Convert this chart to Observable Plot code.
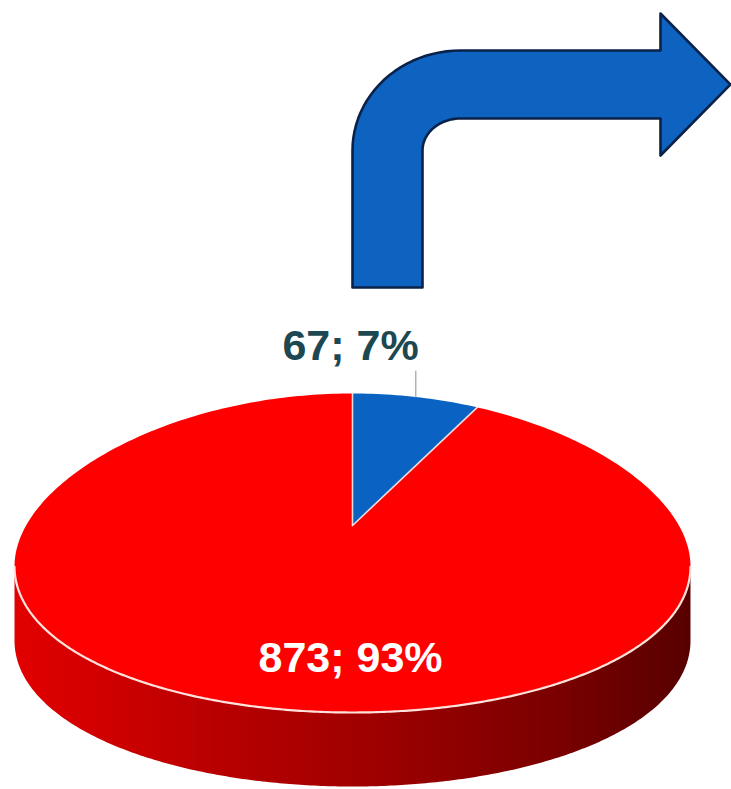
<!DOCTYPE html>
<html>
<head>
<meta charset="utf-8">
<script src="https://cdn.jsdelivr.net/npm/d3@7"></script>
<script src="https://cdn.jsdelivr.net/npm/@observablehq/plot@0.6"></script>
<style>
  html, body { margin: 0; padding: 0; background: #ffffff; }
  #chart svg { display: block; }
</style>
</head>
<body>
<div id="chart"></div>
<script>
// ---- data ----
const sliceKeys = ["first", "second"];
const values = [67, 873];

// ---- layout (pixels) ----
const W = 731, H = 789;
const cx = 352, cy = 525;          // pie centre (apex of slices)
const persp = 5.8;                 // perspective distance (unit radii)
const A = 897.6, B = 1931;         // vertical / horizontal projection factors
const sag = 14;                    // extra drop of the side extremes
const thick = 74;                  // pie thickness
const colors = {first: "#0a63c2", second: "#ff0000"};

const total = d3.sum(values);
const pct = values.map(v => Math.round(100 * v / total));

function proj(theta, f = 1) {
  const c = Math.sin(theta) * f, s = -Math.cos(theta) * f;
  return [cx + B * c / (persp - s), cy + A * s / (persp - s) + sag * c * c];
}
const TAU = 2 * Math.PI;

// slice angles (clockwise from 12 o'clock)
let acc = 0;
const slices = values.map((v, i) => {
  const a0 = acc / total * TAU; acc += v; const a1 = acc / total * TAU;
  return {key: sliceKeys[i], value: v, a0, a1, mid: (a0 + a1) / 2};
});

// top polygons
const topPts = [];
for (const s of slices) {
  topPts.push({key: s.key, x: cx, y: cy});
  const n = Math.max(8, Math.ceil((s.a1 - s.a0) / TAU * 360));
  for (let k = 0; k <= n; k++) {
    const [x, y] = proj(s.a0 + (s.a1 - s.a0) * k / n);
    topPts.push({key: s.key, x, y});
  }
  topPts.push({key: s.key, x: cx, y: cy});
}

// side wall (visible front half): from rightmost to leftmost rim point
const rim = d3.range(0, 721).map(k => proj(k / 720 * TAU));
const iR = d3.maxIndex(rim, p => p[0]), iL = d3.minIndex(rim, p => p[0]);
const rimPts = rim.slice(iR, iL + 1).map(([x, y]) => ({x, y}));
const sidePts = [...rimPts, ...rimPts.slice().reverse().map(p => ({x: p.x, y: p.y + thick})), rimPts[0]];

// slice edges
const edgePts = [];
slices.forEach((s, i) => {
  const [x, y] = proj(s.a0);
  edgePts.push({e: i, x: cx, y: cy}, {e: i, x, y});
});

// leader for small slice
const [lx, ly] = proj(slices[0].mid);
const leader = [{x: lx, y: ly}, {x: lx, y: ly - 26}];

const labels = [
  {text: `${values[0]}; ${pct[0]}%`, x: cx - 2, y: cy - 179, fill: "#1d4751"},
  {text: `${values[1]}; ${pct[1]}%`, x: cx - 2, y: cy + 133, fill: "#ffffff"}
];

// bent arrow decoration
const arrow = (() => {
  const L = 352, R = 422, yb = 287, yt = 50, ybb = 118, acx = 460, acy = 150;
  const bx = 660, hTop = 13, hBot = 155, tipX = 730, tipY = 84;
  const pts = [[L, yb], [L, acy]];
  for (let k = 1; k < 24; k++) {
    const t = Math.PI + (Math.PI / 2) * k / 24;
    pts.push([acx + (acx - L) * Math.cos(t), acy + (acy - yt) * Math.sin(t)]);
  }
  pts.push([acx, yt], [bx, yt], [bx, hTop], [tipX, tipY], [bx, hBot], [bx, ybb], [acx, ybb]);
  for (let k = 23; k > 0; k--) {
    const t = Math.PI + (Math.PI / 2) * k / 24;
    pts.push([acx + (acx - R) * Math.cos(t), acy + (acy - ybb) * Math.sin(t)]);
  }
  pts.push([R, acy], [R, yb], [L, yb]);
  return pts.map(([x, y]) => ({x, y}));
})();

const plot = Plot.plot({
  width: W, height: H,
  margin: 0,
  x: {domain: [0, W], range: [0, W], axis: null},
  y: {domain: [0, H], range: [0, H], axis: null},
  style: {background: "#ffffff", fontFamily: "'Liberation Sans', Arial, sans-serif"},
  marks: [
    Plot.line(sidePts, {x: "x", y: "y", fill: "url(#sideGrad)", stroke: "none", curve: "linear"}),
    Plot.line(topPts.filter(d => d.key === "second"), {x: "x", y: "y", fill: colors.second, stroke: "none", curve: "linear"}),
    Plot.line(topPts.filter(d => d.key === "first"), {x: "x", y: "y", fill: colors.first, stroke: "none", curve: "linear"}),
    Plot.line(rimPts, {x: "x", y: "y", stroke: "#ffe2dc", strokeWidth: 2.2, curve: "linear"}),
    Plot.line(edgePts, {x: "x", y: "y", z: "e", stroke: "#ffe8e0", strokeWidth: 1.6, strokeOpacity: 0.9}),
    Plot.line(leader, {x: "x", y: "y", stroke: "#9aa3a8", strokeWidth: 1.2}),
    Plot.text(labels, {x: "x", y: "y", text: "text", fill: "fill", fontSize: 43, fontWeight: "bold", textAnchor: "middle"}),
    Plot.line(arrow, {x: "x", y: "y", fill: "#0d63bf", stroke: "#0a2248", strokeWidth: 2.6, curve: "linear"})
  ]
});

const ns = "http://www.w3.org/2000/svg";
const defs = document.createElementNS(ns, "defs");
const grad = document.createElementNS(ns, "linearGradient");
grad.setAttribute("id", "sideGrad");
grad.setAttribute("gradientUnits", "userSpaceOnUse");
grad.setAttribute("x1", 14); grad.setAttribute("x2", 694);
grad.setAttribute("y1", 0); grad.setAttribute("y2", 0);
[[0, "#e20000"], [0.3, "#b80000"], [0.55, "#9c0000"], [0.8, "#7a0000"], [1, "#560000"]].forEach(([o, c]) => {
  const st = document.createElementNS(ns, "stop");
  st.setAttribute("offset", o); st.setAttribute("stop-color", c);
  grad.appendChild(st);
});
defs.appendChild(grad);
plot.insertBefore(defs, plot.firstChild);

document.getElementById("chart").appendChild(plot);
</script>
</body>
</html>
